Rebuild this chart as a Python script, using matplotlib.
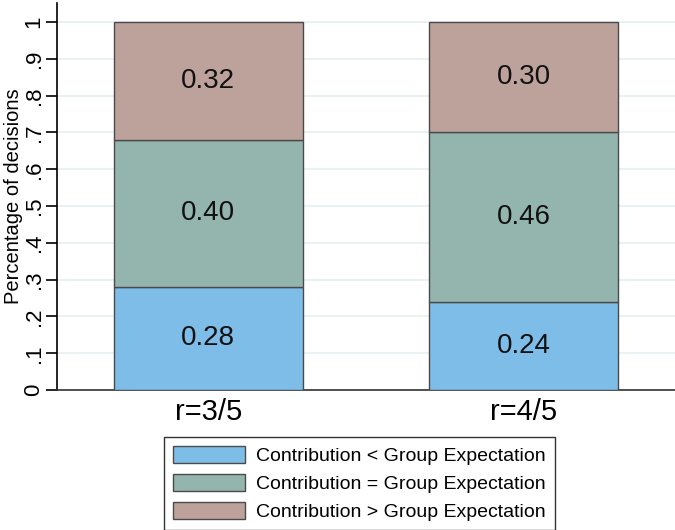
import matplotlib
matplotlib.use("Agg")
import matplotlib.pyplot as plt
import numpy as np

plt.rcParams['font.family'] = ['Liberation Sans', 'DejaVu Sans']

categories = ["r=3/5", "r=4/5"]
below = [0.28, 0.24]
equal = [0.40, 0.46]
above = [0.32, 0.30]
series_labels = ["Contribution < Group Expectation",
                 "Contribution = Group Expectation",
                 "Contribution > Group Expectation"]
colors = ["#7FBDE9", "#94B5AE", "#BDA29B"]
yticks = [0, .1, .2, .3, .4, .5, .6, .7, .8, .9, 1]
ytick_labels = ["0", ".1", ".2", ".3", ".4", ".5", ".6", ".7", ".8", ".9", "1"]

fig = plt.figure(figsize=(6.75, 5.3), dpi=100)
ax = fig.add_axes([57/675, 140/530, 1 - 57/675, 387/530])

x = np.arange(len(categories))
series = [below, equal, above]
bottom = np.zeros(len(categories))
handles = []
for vals, col, lab in zip(series, colors, series_labels):
    b = ax.bar(x, vals, width=0.6, bottom=bottom, color=col,
               edgecolor="#4a4a4a", linewidth=1.0, label=lab, zorder=3)
    handles.append(b)
    for xi, v, bt in zip(x, vals, bottom):
        ax.text(xi, bt + v / 2, f"{v:.2f}", ha="center", va="center",
                fontsize=20, color="#111111", zorder=4)
    bottom = bottom + np.array(vals)

ax.set_xlim(-0.48, 1.48)
ax.set_ylim(0, 1.052)
ax.set_yticks(yticks)
ax.set_yticklabels(ytick_labels, rotation=90, va="center", fontsize=16)
ax.set_xticks(x)
ax.set_xticklabels(categories, fontsize=21)
ax.tick_params(axis="x", length=0, pad=6)
ax.tick_params(axis="y", length=8, width=1.2, pad=1)
ax.set_ylabel("Percentage of decisions", fontsize=14.5)
ax.yaxis.set_label_coords(-0.055, 0.5)
ax.yaxis.grid(True, color="#E6EFF1", linewidth=1.2, zorder=0)
ax.set_axisbelow(True)
for s in ["top", "right"]:
    ax.spines[s].set_visible(False)
ax.spines["left"].set_linewidth(1.2)
ax.spines["bottom"].set_linewidth(1.2)
ax.spines["bottom"].set_color("#333333")

leg = fig.legend(handles=handles, labels=series_labels, loc="upper left",
                 bbox_to_anchor=(164/675, 1 - 437/530), borderaxespad=0,
                 fontsize=14, handlelength=3.7, handleheight=1.0,
                 labelspacing=0.45, borderpad=0.45, handletextpad=0.6,
                 fancybox=False, frameon=True, edgecolor="black")
leg.get_frame().set_linewidth(1.0)

fig.savefig("out.png", dpi=100)
